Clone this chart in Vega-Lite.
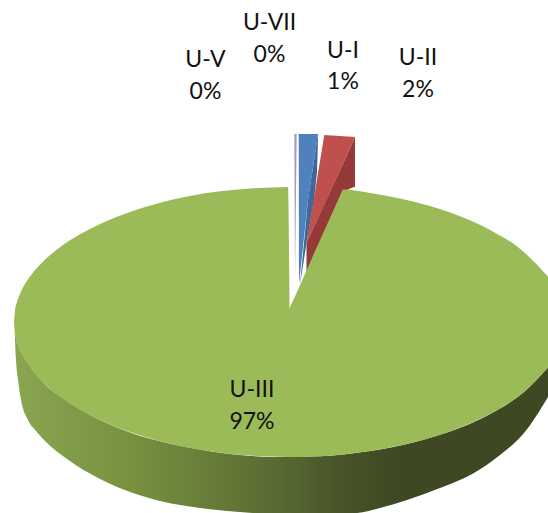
{"$schema":"https://vega.github.io/schema/vega-lite/v6.json","width":548,"height":513,"padding":0,"autosize":{"type":"none"},"background":"white","config":{"view":{"stroke":null}},
"datasets":{
"side":[{"x":14.5,"y":325,"y2":325},{"x":15,"y":333.5,"y2":340},{"x":16,"y":338,"y2":360},{"x":18,"y":345,"y2":380},{"x":21,"y":352,"y2":400},{"x":28,"y":363,"y2":420},{"x":36,"y":374,"y2":431},{"x":45,"y":384.3,"y2":441},{"x":67,"y":401,"y2":459},{"x":100,"y":420.1,"y2":479},{"x":133,"y":433.4,"y2":493},{"x":160,"y":441.2,"y2":501},{"x":200,"y":449.5,"y2":508},{"x":240,"y":455,"y2":512},{"x":274,"y":457,"y2":514},{"x":320,"y":456.3,"y2":514},{"x":357,"y":452.8,"y2":513},{"x":380,"y":449.4,"y2":508},{"x":407,"y":444,"y2":500},{"x":440,"y":434.8,"y2":488},{"x":474,"y":422,"y2":473},{"x":500,"y":408.6,"y2":455},{"x":524,"y":392,"y2":433},{"x":548,"y":367.4,"y2":397}],
"slices":[
{"part":"U-V","x":294.3,"y":134,"y2":134},{"part":"U-V","x":295,"y":134,"y2":280},{"part":"U-V","x":296.7,"y":134,"y2":134},
{"part":"U-I","x":298.7,"y":134,"y2":134},{"part":"U-I","x":299,"y":134,"y2":284},{"part":"U-I","x":308,"y":134,"y2":200},{"part":"U-I","x":318,"y":134,"y2":134},
{"part":"U-I side","x":300,"y":285,"y2":285},{"part":"U-I side","x":306.5,"y":216,"y2":243},{"part":"U-I side","x":308,"y":200,"y2":234.5},{"part":"U-I side","x":314,"y":160.4,"y2":200},{"part":"U-I side","x":317,"y":140.6,"y2":172},{"part":"U-I side","x":318,"y":134,"y2":140},
{"part":"U-II side","x":306.5,"y":243,"y2":272},{"part":"U-II side","x":342,"y":165.7,"y2":192},{"part":"U-II side","x":354,"y":139.2,"y2":187},{"part":"U-II side","x":355,"y":137,"y2":187},
{"part":"U-II","x":306.5,"y":243,"y2":243},{"part":"U-II","x":324.3,"y":135,"y2":205.3},{"part":"U-II","x":355,"y":137,"y2":137}],
"top":[
{"part":"left","x":14,"y":322,"y2":322},{"part":"left","x":15,"y":310.5,"y2":333.5},{"part":"left","x":17,"y":302,"y2":342},{"part":"left","x":20,"y":294,"y2":350},{"part":"left","x":30,"y":276.6,"y2":367.4},{"part":"left","x":45,"y":259.7,"y2":384.3},{"part":"left","x":60,"y":247.2,"y2":396.8},{"part":"left","x":80,"y":234.3,"y2":409.7},{"part":"left","x":100,"y":223.9,"y2":420.1},{"part":"left","x":130,"y":211.9,"y2":432.1},{"part":"left","x":160,"y":202.8,"y2":441.2},{"part":"left","x":190,"y":196,"y2":448},{"part":"left","x":220,"y":191.3,"y2":452.7},{"part":"left","x":250,"y":188.4,"y2":455.6},{"part":"left","x":288,"y":187,"y2":457},
{"part":"notch","x":286,"y":187,"y2":457},{"part":"notch","x":288,"y":187,"y2":457},{"part":"notch","x":289.5,"y":308,"y2":457},
{"part":"wedge","x":289,"y":309,"y2":457},{"part":"wedge","x":289.5,"y":308,"y2":457},{"part":"wedge","x":316,"y":249,"y2":456.4},{"part":"wedge","x":343,"y":189.6,"y2":454.4},
{"part":"right","x":342,"y":191,"y2":454.5},{"part":"right","x":343,"y":189.6,"y2":454.4},{"part":"right","x":370,"y":193,"y2":451},{"part":"right","x":400,"y":198.5,"y2":445.5},{"part":"right","x":430,"y":206.1,"y2":437.9},{"part":"right","x":460,"y":216.3,"y2":427.7},{"part":"right","x":490,"y":229.9,"y2":414.1},{"part":"right","x":520,"y":248.7,"y2":395.3},{"part":"right","x":548,"y":276.6,"y2":367.4}],
"labels":[{"t":"U-V","x":205.5,"y":60},{"t":"0%","x":205.5,"y":92},{"t":"U-VII","x":269.5,"y":23},{"t":"0%","x":269.5,"y":55},{"t":"U-I","x":343,"y":51},{"t":"1%","x":343,"y":82},{"t":"U-II","x":418,"y":58},{"t":"2%","x":418,"y":90},{"t":"U-III","x":252,"y":390},{"t":"97%","x":252,"y":422}]},
"encoding":{"x":{"field":"x","type":"quantitative","scale":{"domain":[0,548],"nice":false,"zero":false},"axis":null},"y":{"field":"y","type":"quantitative","scale":{"domain":[513,0],"nice":false,"zero":false},"axis":null}},
"layer":[
{"data":{"name":"side"},"mark":{"type":"area","clip":true,"interpolate":"monotone","color":{"gradient":"linear","x1":0,"y1":0,"x2":1,"y2":0,"stops":[{"offset":0,"color":"#8aa651"},{"offset":0.23,"color":"#76903f"},{"offset":0.486,"color":"#5a6b32"},{"offset":0.61,"color":"#475428"},{"offset":0.72,"color":"#3e4822"},{"offset":1,"color":"#3e4822"}]}},"encoding":{"y2":{"field":"y2"}}},
{"data":{"name":"slices"},"mark":{"type":"area","clip":true},"encoding":{"y2":{"field":"y2"},"color":{"field":"part","type":"nominal","legend":null,"scale":{"domain":["U-V","U-I","U-I side","U-II side","U-II"],"range":["#a79bbf","#4f81bd","#3f6797","#953a38","#c0504d"]}}}},
{"data":{"name":"top"},"mark":{"type":"area","clip":true,"interpolate":"monotone","color":"#9bbb59"},"encoding":{"y2":{"field":"y2"},"detail":{"field":"part"}}},
{"data":{"name":"labels"},"mark":{"type":"text","font":"Lato","fontSize":23,"color":"#111111","align":"center","baseline":"middle"},"encoding":{"text":{"field":"t"}}}
]}
